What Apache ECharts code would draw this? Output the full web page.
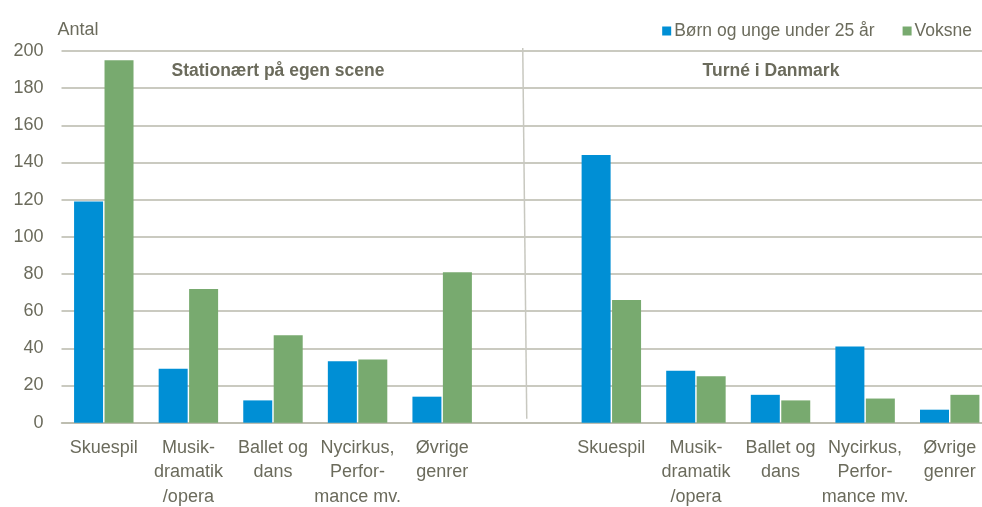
<!DOCTYPE html>
<html><head><meta charset="utf-8">
<script src="https://cdn.jsdelivr.net/npm/echarts@6/dist/echarts.min.js"></script>
<style>html,body{margin:0;padding:0;background:#fff;overflow:hidden}#c{width:992px;height:507px}</style>
</head><body><div id="c"></div>
<script>
const categories = ['Skuespil','Musik-\ndramatik\n/opera','Ballet og\ndans','Nycirkus,\nPerfor-\nmance mv.','Øvrige\ngenrer','',
                    'Skuespil','Musik-\ndramatik\n/opera','Ballet og\ndans','Nycirkus,\nPerfor-\nmance mv.','Øvrige\ngenrer'];
const seriesNames = ['Børn og unge under 25 år','Voksne'];
const boernValues = [119, 29, 12, 33, 14, null, 144, 28, 15, 41, 7];
const voksneValues = [195, 72, 47, 34, 81, null, 66, 25, 12, 13, 15];
const groupTitles = ['Stationært på egen scene','Turné i Danmark'];
const yTicks = {min: 0, max: 200, interval: 20};
const yName = 'Antal';
const dividerIndex = 5;

const FONT = '"Liberation Sans", Arial, sans-serif';
const TXT = '#6b6b5c';
const FS = 18;
const chart = echarts.init(document.getElementById('c'));
chart.setOption({
  animation: false,
  textStyle: {fontFamily: FONT},
  title: [
    {text: groupTitles[0], left: 278, top: 61, textAlign: 'center', padding: 0,
     textStyle: {fontFamily: FONT, fontSize: 17.5, fontWeight: 'bold', color: TXT, lineHeight: 20}},
    {text: groupTitles[1], left: 771, top: 61, textAlign: 'center', padding: 0,
     textStyle: {fontFamily: FONT, fontSize: 17.5, fontWeight: 'bold', color: TXT, lineHeight: 20}}
  ],
  legend: {
    right: 20, top: 21, itemWidth: 9, itemHeight: 9, itemGap: 28, icon: 'rect', padding: 0,
    textStyle: {fontFamily: FONT, fontSize: 17.5, color: TXT, padding: [0,0,0,-2], lineHeight: 20},
    data: seriesNames
  },
  grid: {left: 61.5, right: 0, top: 51, bottom: 84.3, containLabel: false, outerBoundsMode: 'none'},
  xAxis: {
    type: 'category', data: categories,
    axisTick: {show: false},
    axisLine: {lineStyle: {color: '#b9b9ab', width: 1.5}},
    axisLabel: {fontFamily: FONT, fontSize: FS, color: TXT, margin: 13, lineHeight: 24.5, interval: 0}
  },
  yAxis: {
    type: 'value', min: yTicks.min, max: yTicks.max, interval: yTicks.interval,
    name: yName, nameGap: 12,
    nameTextStyle: {fontFamily: FONT, fontSize: FS, color: TXT, align: 'left', padding: [0,0,0,-4]},
    axisLine: {show: false}, axisTick: {show: false},
    axisLabel: {fontFamily: FONT, fontSize: FS, color: TXT, margin: 18},
    splitLine: {lineStyle: {color: '#b9b9ab', width: 1.5}}
  },
  series: [
    {name: seriesNames[0], type: 'bar', data: boernValues, barWidth: 29, barGap: '5%',
     itemStyle: {color: '#008fd5'}},
    {name: seriesNames[1], type: 'bar', data: voksneValues, barWidth: 29,
     itemStyle: {color: '#78aa6f'}}
  ]
});
// divider between the two groups, positioned through the axis scales
const pTop = chart.convertToPixel({gridIndex: 0}, [dividerIndex, yTicks.max]);
const pBot = chart.convertToPixel({gridIndex: 0}, [dividerIndex, yTicks.min]);
chart.setOption({
  graphic: [{type: 'line', silent: true, z: 5,
    shape: {x1: pTop[0] - 4, y1: pTop[1] - 3, x2: pBot[0], y2: pBot[1] - 4},
    style: {stroke: '#c8c8c0', lineWidth: 1.5}}]
});
</script></body></html>
